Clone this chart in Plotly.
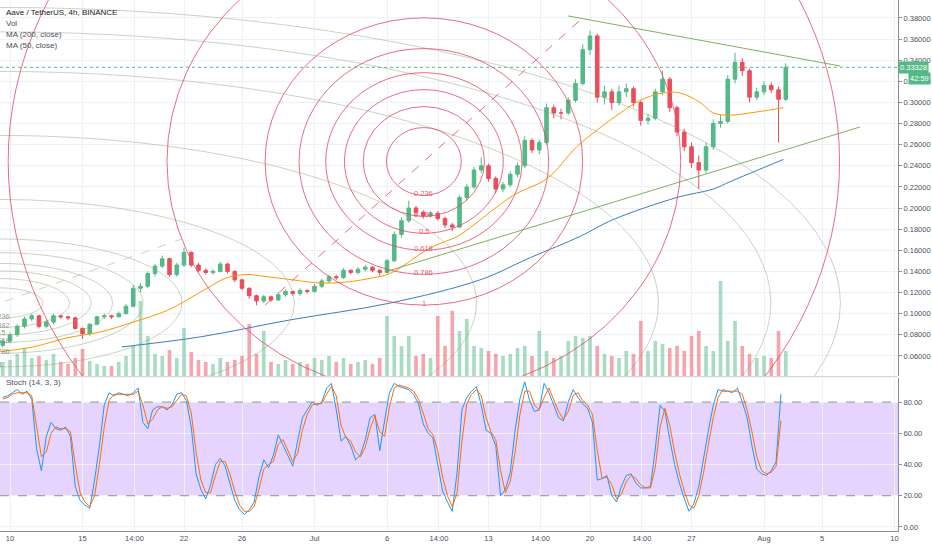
import pandas as pd
import plotly.graph_objects as go

# --- Aave / USDT (12h candles) ---
first_open = 0.070
closes = [0.074, 0.080, 0.088, 0.095, 0.098, 0.088, 0.092, 0.098, 0.097, 0.096,
          0.086, 0.081, 0.090, 0.097, 0.098, 0.097, 0.100, 0.107, 0.124, 0.126,
          0.138, 0.145, 0.152, 0.137, 0.146, 0.158, 0.146, 0.141, 0.139, 0.140,
          0.147, 0.140, 0.132, 0.124, 0.117, 0.112, 0.116, 0.113, 0.118, 0.121,
          0.119, 0.122, 0.121, 0.126, 0.131, 0.135, 0.134, 0.141, 0.139, 0.142,
          0.144, 0.141, 0.139, 0.150, 0.175, 0.188, 0.200, 0.196, 0.193, 0.195,
          0.190, 0.184, 0.182, 0.210, 0.220, 0.236, 0.240, 0.228, 0.218, 0.222,
          0.232, 0.240, 0.264, 0.255, 0.262, 0.295, 0.290, 0.290, 0.302, 0.318,
          0.350, 0.363, 0.305, 0.310, 0.300, 0.310, 0.313, 0.300, 0.283, 0.285,
          0.310, 0.322, 0.295, 0.272, 0.258, 0.243, 0.236, 0.258, 0.280, 0.282,
          0.322, 0.338, 0.330, 0.305, 0.310, 0.316, 0.312, 0.303, 0.33328]
highs = [0.076, 0.082, 0.090, 0.097, 0.100, 0.099, 0.094, 0.100, 0.099, 0.098,
         0.097, 0.087, 0.091, 0.098, 0.100, 0.099, 0.102, 0.109, 0.127, 0.129,
         0.140, 0.147, 0.155, 0.153, 0.148, 0.162, 0.159, 0.148, 0.143, 0.142,
         0.149, 0.148, 0.141, 0.133, 0.125, 0.118, 0.118, 0.117, 0.120, 0.123,
         0.122, 0.124, 0.123, 0.128, 0.133, 0.137, 0.137, 0.143, 0.142, 0.144,
         0.146, 0.145, 0.142, 0.152, 0.178, 0.191, 0.207, 0.202, 0.198, 0.197,
         0.197, 0.192, 0.186, 0.212, 0.223, 0.239, 0.248, 0.242, 0.230, 0.225,
         0.235, 0.243, 0.268, 0.266, 0.265, 0.299, 0.298, 0.294, 0.305, 0.322,
         0.355, 0.368, 0.365, 0.316, 0.313, 0.316, 0.318, 0.315, 0.302, 0.289,
         0.313, 0.330, 0.324, 0.297, 0.275, 0.262, 0.250, 0.262, 0.284, 0.288,
         0.326, 0.347, 0.342, 0.332, 0.314, 0.320, 0.319, 0.315, 0.337]
lows = [0.068, 0.072, 0.078, 0.086, 0.093, 0.086, 0.086, 0.090, 0.095, 0.094,
        0.085, 0.076, 0.079, 0.089, 0.095, 0.095, 0.096, 0.099, 0.106, 0.120,
        0.124, 0.135, 0.143, 0.135, 0.135, 0.144, 0.144, 0.139, 0.137, 0.137,
        0.139, 0.138, 0.130, 0.122, 0.114, 0.108, 0.110, 0.111, 0.112, 0.116,
        0.117, 0.117, 0.119, 0.120, 0.124, 0.129, 0.132, 0.133, 0.137, 0.137,
        0.140, 0.139, 0.136, 0.138, 0.149, 0.172, 0.186, 0.192, 0.190, 0.191,
        0.188, 0.181, 0.178, 0.181, 0.207, 0.218, 0.233, 0.225, 0.214, 0.215,
        0.220, 0.229, 0.238, 0.252, 0.251, 0.260, 0.285, 0.284, 0.288, 0.300,
        0.316, 0.345, 0.300, 0.298, 0.293, 0.297, 0.305, 0.296, 0.278, 0.279,
        0.283, 0.307, 0.291, 0.268, 0.254, 0.238, 0.218, 0.233, 0.255, 0.276,
        0.280, 0.318, 0.325, 0.300, 0.302, 0.307, 0.309, 0.262, 0.301]
volumes = [14, 16, 22, 28, 18, 20, 16, 22, 14, 12,
           18, 27, 15, 12, 10, 10, 14, 20, 30, 75,
           40, 22, 20, 26, 18, 48, 24, 16, 14, 12,
           18, 14, 16, 20, 52, 22, 45, 14, 12, 16,
           12, 14, 12, 18, 16, 20, 14, 18, 12, 14,
           16, 12, 18, 60, 40, 30, 40, 20, 22, 18,
           60, 30, 65, 45, 57, 30, 28, 25, 22, 20,
           22, 28, 30, 20, 45, 25, 18, 20, 35, 40,
           38, 40, 30, 22, 20, 18, 25, 22, 55, 25,
           35, 32, 28, 30, 25, 40, 45, 30, 25, 95,
           35, 55, 30, 22, 18, 20, 18, 45, 25]

# moving averages (read at points along the lines)
ma50_dates = ["2020-06-09 08:00", "2020-06-11 14:00", "2020-06-13 22:00", "2020-06-16 05:00",
              "2020-06-18 12:00", "2020-06-20 20:00", "2020-06-22 05:00", "2020-06-23 14:00",
              "2020-06-24 23:00", "2020-06-26 08:00", "2020-06-27 17:00", "2020-06-29 12:00",
              "2020-07-01 09:00", "2020-07-03 06:00", "2020-07-05 01:00", "2020-07-06 05:00",
              "2020-07-08 23:00", "2020-07-10 20:00", "2020-07-11 12:00", "2020-07-14 17:00",
              "2020-07-17 01:00", "2020-07-19 02:00", "2020-07-20 12:00", "2020-07-22 02:00",
              "2020-07-23 11:00", "2020-07-25 01:00", "2020-07-26 05:00", "2020-07-27 14:00",
              "2020-07-28 12:00", "2020-07-29 16:00", "2020-07-31 12:00", "2020-08-02 08:00"]
ma50_vals = [0.064, 0.0685, 0.077, 0.0826, 0.092, 0.103, 0.113, 0.124,
             0.134, 0.137, 0.135, 0.132, 0.129, 0.130, 0.134, 0.138,
             0.162, 0.173, 0.179, 0.212, 0.228, 0.258, 0.274, 0.290,
             0.302, 0.309, 0.309, 0.300, 0.290, 0.288, 0.291, 0.295]
ma200_dates = ["2020-06-17 17:00", "2020-06-23 03:00", "2020-06-29 07:00", "2020-07-06 05:00",
               "2020-07-12 10:00", "2020-07-15 21:00", "2020-07-19 07:00", "2020-07-21 14:00",
               "2020-07-26 00:00", "2020-07-28 12:00", "2020-07-29 16:00", "2020-08-02 08:00"]
ma200_vals = [0.0685, 0.078, 0.094, 0.110, 0.132, 0.153, 0.173, 0.189,
              0.210, 0.218, 0.225, 0.246]

# Stoch (14, 3, 3), read every 8h
stoch_k = [83, 84, 86, 88, 85, 87, 82, 50, 36, 58,
           67, 63, 62, 64, 58, 26, 17, 14, 12, 30,
           52, 78, 86, 84, 86, 85, 84, 86, 89, 67,
           63, 75, 77, 77, 75, 78, 85, 86, 81, 64,
           34, 24, 18, 27, 40, 44, 39, 28, 17, 11,
           8, 11, 16, 32, 43, 38, 46, 59, 52, 45,
           39, 55, 70, 75, 80, 78, 80, 89, 92, 75,
           55, 58, 52, 43, 46, 56, 70, 72, 49, 68,
           86, 92, 90, 89, 88, 85, 79, 66, 60, 57,
           40, 23, 16, 10, 35, 75, 83, 87, 90, 78,
           62, 60, 52, 20, 24, 35, 62, 82, 93, 81,
           74, 75, 92, 86, 78, 70, 68, 80, 88, 83,
           79, 76, 67, 30, 31, 33, 20, 16, 26, 33,
           34, 28, 25, 25, 26, 50, 78, 74, 56, 40,
           28, 18, 10, 15, 26, 45, 62, 78, 88, 87,
           87, 86, 89, 80, 70, 52, 37, 34, 33, 36,
           42, 85]
stoch_d = [82, 83, 85, 86, 86, 86, 84, 65, 45, 48,
           60, 64, 63, 63, 61, 40, 22, 16, 13, 20,
           40, 64, 81, 85, 85, 85, 85, 85, 87, 78,
           66, 69, 75, 77, 76, 77, 81, 85, 84, 73,
           48, 30, 22, 22, 33, 42, 42, 34, 23, 14,
           10, 10, 13, 24, 37, 40, 42, 53, 56, 49,
           42, 47, 62, 72, 78, 79, 79, 85, 90, 84,
           65, 57, 55, 48, 45, 51, 63, 71, 61, 58,
           77, 89, 91, 90, 89, 87, 82, 73, 63, 59,
           49, 32, 20, 13, 22, 55, 79, 85, 88, 84,
           70, 61, 56, 36, 22, 29, 48, 72, 87, 87,
           78, 75, 83, 89, 82, 74, 69, 74, 84, 86,
           81, 78, 72, 49, 31, 32, 27, 18, 21, 29,
           33, 31, 27, 25, 25, 38, 64, 76, 65, 48,
           34, 23, 14, 12, 20, 35, 53, 70, 83, 88,
           87, 87, 87, 85, 75, 61, 45, 36, 34, 35,
           39, 68]

# x axis ticks
tick_dates = ["2020-06-10", "2020-06-15", "2020-06-18 14:00", "2020-06-22", "2020-06-26",
              "2020-07-01", "2020-07-06", "2020-07-09 14:00", "2020-07-13", "2020-07-16 14:00",
              "2020-07-20", "2020-07-23 14:00", "2020-07-27", "2020-08-01", "2020-08-05", "2020-08-10"]
tick_text = ["10", "15", "14:00", "22", "26", "Jul", "6", "14:00", "13", "14:00",
             "20", "14:00", "27", "Aug", "5", "10"]
price_ticks = [0.06, 0.08, 0.10, 0.12, 0.14, 0.16, 0.18, 0.20, 0.22, 0.24,
               0.26, 0.28, 0.30, 0.32, 0.34, 0.36, 0.38]
stoch_ticks = [0, 20, 40, 60, 80]

# drawings: fib circles (centre, half-size of the level-1 circle) and trend lines
fib_levels = [0.236, 0.382, 0.5, 0.618, 0.786, 1, 1.618, 2.618, 3.618, 4.236, 4.618]
fib_labels = ["0.236", "0.382", "0.5", "0.618", "0.786", "1", "1.618", "2.618", "3.618", "4.236", "4.618"]
red_fib = dict(center="2020-07-08 13:00", price=0.2441, half_days=10.95, half_price=0.136)
grey_fib = dict(center="2020-06-09 07:30", price=0.1101, half_days=12.55, half_price=0.0606)
trend_upper = (["2020-07-18 11:30", "2020-08-06 06:00"], [0.3819, 0.3345])
trend_lower = (["2020-07-05 20:40", "2020-08-07 15:00"], [0.1395, 0.2768])

UP = "#53b987"
DOWN = "#eb4d5c"
GRID = "#eef1f6"
AXIS = "#8a8d96"
TXT = "#4a4e59"
FONT = "Liberation Sans"

candle_times = pd.date_range("2020-06-09 12:00", periods=len(closes), freq="12h")
opens = [first_open] + closes[:-1]
stoch_times = pd.date_range("2020-06-09 12:00", periods=len(stoch_k), freq="8h")
vol_colors = ["rgba(83,185,135,0.5)" if c >= o else "rgba(235,77,92,0.5)" for o, c in zip(opens, closes)]

fig = go.Figure()
fig.add_trace(go.Bar(x=candle_times, y=volumes, marker=dict(color=vol_colors, line=dict(width=0)),
                     width=12 * 3600 * 1000 * 0.5, xaxis="x", yaxis="y"))
fig.add_trace(go.Candlestick(x=candle_times, open=opens, high=highs, low=lows, close=closes,
                             increasing=dict(line=dict(color=UP, width=1), fillcolor=UP),
                             decreasing=dict(line=dict(color=DOWN, width=1), fillcolor=DOWN),
                             whiskerwidth=0, xaxis="x", yaxis="y3"))
fig.add_trace(go.Scatter(x=ma50_dates, y=ma50_vals, mode="lines", xaxis="x", yaxis="y3",
                         line=dict(color="#ff9800", width=1, shape="spline")))
fig.add_trace(go.Scatter(x=ma200_dates, y=ma200_vals, mode="lines", xaxis="x", yaxis="y3",
                         line=dict(color="#3a7dc4", width=1, shape="spline")))
fig.add_trace(go.Scatter(x=stoch_times, y=stoch_k, mode="lines", xaxis="x2", yaxis="y2",
                         line=dict(color="#2196f3", width=1)))
fig.add_trace(go.Scatter(x=stoch_times, y=stoch_d, mode="lines", xaxis="x2", yaxis="y2",
                         line=dict(color="#ff6d00", width=1)))

shapes = []
annotations = []


def ts(t):
    return t.strftime("%Y-%m-%d %H:%M:%S")


def add_fib(spec, color, label_color):
    c = pd.Timestamp(spec["center"])
    for lv, lab in zip(fib_levels, fib_labels):
        dx = pd.Timedelta(days=lv * spec["half_days"])
        dy = lv * spec["half_price"]
        shapes.append(dict(type="circle", xref="x", yref="y3", layer="above",
                           x0=ts(c - dx), x1=ts(c + dx),
                           y0=spec["price"] - dy, y1=spec["price"] + dy,
                           line=dict(color=color, width=1)))
        if lv <= 1:
            annotations.append(dict(x=ts(c), y=spec["price"] - dy, xref="x", yref="y3",
                                    text=lab, showarrow=False, yshift=2,
                                    font=dict(size=7.5, color=label_color, family=FONT)))
    dx = pd.Timedelta(days=spec["half_days"])
    shapes.append(dict(type="line", xref="x", yref="y3", layer="above",
                       x0=ts(c - dx), x1=ts(c + dx),
                       y0=spec["price"] - spec["half_price"], y1=spec["price"] + spec["half_price"],
                       line=dict(color=color, width=1, dash="dash")))


add_fib(grey_fib, "rgba(140,160,115,0.45)", "rgba(120,140,100,0.85)")
add_fib(red_fib, "rgba(226,72,98,0.8)", "rgba(226,72,98,0.9)")

for xs, ys in (trend_upper, trend_lower):
    shapes.append(dict(type="line", xref="x", yref="y3", layer="above",
                       x0=xs[0], x1=xs[1], y0=ys[0], y1=ys[1],
                       line=dict(color="rgba(110,160,70,0.85)", width=1)))

# last price line
shapes.append(dict(type="line", xref="paper", yref="y3", x0=0, x1=1, y0=closes[-1], y1=closes[-1],
                   line=dict(color=UP, width=1, dash="dot"), layer="above"))

# stoch band
shapes.append(dict(type="rect", xref="paper", yref="y2", x0=0, x1=1, y0=20, y1=80,
                   fillcolor="rgba(155,80,250,0.25)", line=dict(width=0), layer="below"))
for lvl in (20, 80):
    shapes.append(dict(type="line", xref="paper", yref="y2", x0=0, x1=1, y0=lvl, y1=lvl,
                       line=dict(color="#8e8e9a", width=1, dash="dash")))

# pane separator
shapes.append(dict(type="line", xref="paper", yref="paper", x0=0, x1=1, y0=0.2905, y1=0.2905,
                   line=dict(color="#c9ccd4", width=1)))

# legend texts
legend_lines = [("Aave / TetherUS, 4h, BINANCE", 0.9768, "#131722"),
                ("Vol", 0.9561, TXT),
                ("MA (200, close)", 0.9341, TXT),
                ("MA (50, close)", 0.9134, TXT),
                ("Stoch (14, 3, 3)", 0.2806, TXT)]
for text, yy, col in legend_lines:
    annotations.append(dict(x=0.005, y=yy, xref="paper", yref="paper", text=text,
                            showarrow=False, xanchor="left", yanchor="middle",
                            font=dict(size=8, color=col, family=FONT)))

# price label boxes on the right axis
annotations.append(dict(x=1, y=closes[-1], xref="paper", yref="y3", text=f"{closes[-1]:.5f}",
                        showarrow=False, xanchor="left", yanchor="middle", bgcolor=UP, borderpad=1,
                        font=dict(size=7.5, color="white", family=FONT)))
annotations.append(dict(x=1.0367, y=closes[-1], xref="paper", yref="y3", text="42:59", yshift=-11,
                        showarrow=False, xanchor="right", yanchor="middle", bgcolor=UP, borderpad=1,
                        font=dict(size=7.5, color="white", family=FONT)))

x_range = ["2020-06-09 07:27", "2020-08-10 05:45"]
tickfont = dict(size=7.5, color=TXT, family=FONT)

fig.update_layout(
    width=932, height=550,
    margin=dict(l=0, r=34, t=0, b=19),
    plot_bgcolor="white", paper_bgcolor="white",
    showlegend=False,
    shapes=shapes, annotations=annotations,
    xaxis=dict(domain=[0, 1], anchor="y", type="date", range=x_range,
               tickvals=tick_dates, showticklabels=False, ticks="",
               showgrid=True, gridcolor=GRID, zeroline=False,
               rangeslider=dict(visible=False)),
    xaxis2=dict(domain=[0, 1], anchor="y2", type="date", range=x_range, matches="x",
                tickvals=tick_dates, ticktext=tick_text, tickfont=tickfont, ticks="",
                showgrid=True, gridcolor=GRID, zeroline=False,
                showline=True, linecolor=AXIS, rangeslider=dict(visible=False)),
    yaxis=dict(domain=[0.292, 1], anchor="x", range=[0, 376], visible=False, showgrid=False),
    yaxis3=dict(overlaying="y", anchor="x", side="right", range=[0.041, 0.397],
                tickvals=price_ticks, tickformat=".5f", tickfont=tickfont,
                ticks="outside", ticklen=3, tickcolor=AXIS,
                showline=True, linecolor=AXIS, showgrid=True, gridcolor=GRID, zeroline=False),
    yaxis2=dict(domain=[0, 0.288], anchor="x2", side="right", range=[-2.6, 95.4],
                tickvals=stoch_ticks, tickformat=".2f", tickfont=tickfont,
                ticks="outside", ticklen=3, tickcolor=AXIS,
                showline=True, linecolor=AXIS, showgrid=True, gridcolor=GRID, zeroline=False),
)

# the page's default body margin would shift the figure by 8px
fig.write_html("out.html", config={"displayModeBar": False},
               post_script="document.body.style.margin='0px';")
